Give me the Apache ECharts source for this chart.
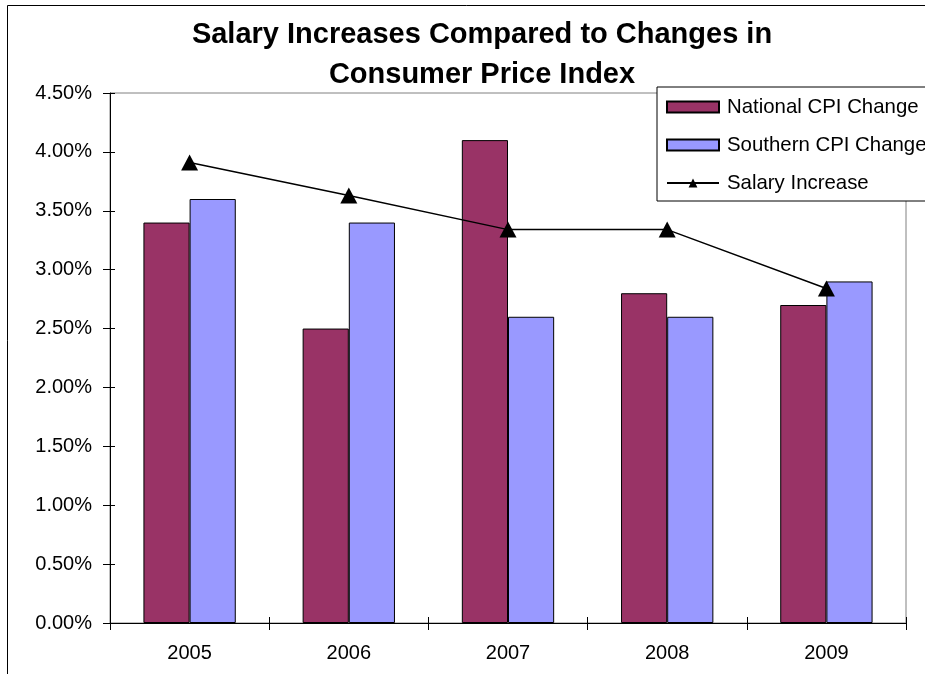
<!DOCTYPE html>
<html>
<head>
<meta charset="utf-8">
<script src="https://cdn.jsdelivr.net/npm/echarts@6/dist/echarts.min.js"></script>
<style>
html,body{margin:0;padding:0;background:#fff;}
#chart{width:925px;height:674px;}
</style>
</head>
<body>
<div id="chart"></div>
<script>
const years = ['2005', '2006', '2007', '2008', '2009'];
const nationalCPI = [3.4, 2.5, 4.1, 2.8, 2.7];
const southernCPI = [3.6, 3.4, 2.6, 2.6, 2.9];
const salaryIncrease = [3.91, 3.63, 3.34, 3.34, 2.84];
const titleLines = ['Salary Increases Compared to Changes in', 'Consumer Price Index'];

const FONT = "'Liberation Sans', Arial, sans-serif";
const chart = echarts.init(document.getElementById('chart'), null, {renderer: 'canvas'});

const option = {
  backgroundColor: '#ffffff',
  animation: false,
  title: {
    text: titleLines.join('\n'),
    left: 477,
    textAlign: 'center',
    top: 10,
    textStyle: {fontFamily: FONT, fontSize: 29, fontWeight: 'bold', color: '#000', lineHeight: 40}
  },
  graphic: [{
    type: 'rect',
    shape: {x: 7.5, y: 5.5, width: 2000, height: 2000},
    style: {fill: 'none', stroke: '#000', lineWidth: 1},
    silent: true,
    z: 100
  }],
  legend: {
    orient: 'vertical',
    left: 657,
    top: 87,
    padding: [10, 60, 8, 9],
    itemGap: 18,
    itemWidth: 52,
    itemHeight: 11,
    backgroundColor: '#fff',
    borderColor: '#000',
    borderWidth: 1,
    z: 10,
    textStyle: {fontFamily: FONT, fontSize: 20.4, color: '#000', lineHeight: 20, padding: [0, 0, 0, 3]},
    data: [
      {name: 'National CPI Change', icon: 'rect'},
      {name: 'Southern CPI Change', icon: 'rect'},
      {name: 'Salary Increase'}
    ]
  },
  grid: {
    left: 110, right: 19, top: 93, bottom: 51,
    show: true, borderColor: '#808080', borderWidth: 1, backgroundColor: '#fff'
  },
  xAxis: [{
    type: 'category',
    data: years,
    position: 'bottom',
    axisLine: {lineStyle: {color: '#000', width: 1}},
    axisTick: {show: true, length: 7, alignWithLabel: false, lineStyle: {color: '#000'}},
    axisLabel: {fontFamily: FONT, fontSize: 20, color: '#000', margin: 20},
    splitLine: {show: false}
  }, {
    type: 'category',
    data: years,
    position: 'bottom',
    axisLine: {show: false},
    axisTick: {show: true, inside: true, length: 6, lineStyle: {color: '#000'}},
    axisLabel: {show: false},
    splitLine: {show: false}
  }],
  yAxis: [{
    type: 'value',
    min: 0, max: 4.5, interval: 0.5,
    position: 'left',
    axisLine: {show: true, lineStyle: {color: '#000', width: 1}},
    axisTick: {show: true, length: 7, lineStyle: {color: '#000'}},
    axisLabel: {fontFamily: FONT, fontSize: 20, color: '#000', margin: 18,
      formatter: v => v.toFixed(2) + '%'},
    splitLine: {show: false}
  }, {
    type: 'value',
    min: 0, max: 4.5, interval: 0.5,
    position: 'left',
    axisLine: {show: false},
    axisTick: {show: true, inside: true, length: 5, lineStyle: {color: '#000'}},
    axisLabel: {show: false},
    splitLine: {show: false}
  }],
  series: [{
    name: 'National CPI Change',
    type: 'bar',
    data: nationalCPI,
    barGap: '0%',
    barCategoryGap: '42%',
    itemStyle: {color: '#993366', borderColor: '#000', borderWidth: 1}
  }, {
    name: 'Southern CPI Change',
    type: 'bar',
    data: southernCPI,
    barGap: '0%',
    barCategoryGap: '42%',
    itemStyle: {color: '#9999ff', borderColor: '#000', borderWidth: 1}
  }, {
    name: 'Salary Increase',
    type: 'line',
    data: salaryIncrease,
    symbol: 'triangle',
    symbolSize: [17, 16],
    showAllSymbol: true,
    lineStyle: {color: '#000', width: 1.5},
    itemStyle: {color: '#000'},
    z: 5
  }]
};
chart.setOption(option);
</script>
</body>
</html>
